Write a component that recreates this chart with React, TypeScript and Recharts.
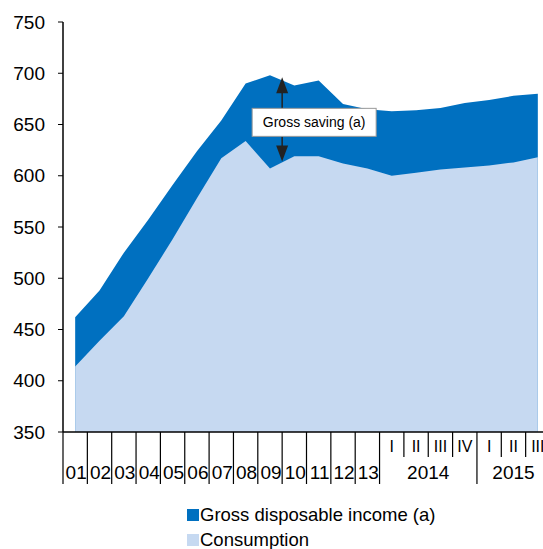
import React from 'react';
import { AreaChart, Area, XAxis, YAxis, ReferenceLine } from 'recharts';

// annual periods, then quarters
const years = ['01', '02', '03', '04', '05', '06', '07', '08', '09', '10', '11', '12', '13'];
const quarters = ['I', 'II', 'III', 'IV', 'I', 'II', 'III'];
const quarterYears = ['2014', '2014', '2014', '2014', '2015', '2015', '2015'];

const income = [462, 488, 525, 557, 591, 624, 654, 690, 698, 688, 693, 670, 665, 663, 664, 666, 671, 674, 678, 680];
const consumption = [414, 439, 463, 500, 538, 578, 617, 634, 607, 619, 619, 612, 607, 600, 603, 606, 608, 610, 613, 618];

const yTicks = [350, 400, 450, 500, 550, 600, 650, 700, 750];

const periods = [...years, ...quarters.map((q, i) => `${quarterYears[i]} ${q}`)];
const data = periods.map((p, i) => ({ period: p, income: income[i], consumption: consumption[i] }));

const FONT = '"Liberation Sans", Arial, sans-serif';
const DARK = '#0070C0';
const LIGHT = '#C6D9F1';

const W = 556;
const H = 495;
const MARGIN = { top: 22, right: 6, bottom: 3, left: 0 };
const Y_AXIS_W = 63;
const X_AXIS_H = 60;
const AXIS_Y = H - MARGIN.bottom - X_AXIS_H;
const BAND = (W - MARGIN.left - MARGIN.right - Y_AXIS_W) / periods.length;

const PeriodTick = (props: any) => {
    const { x } = props;
    const i = props.index ?? props.payload?.index ?? 0;
    const left = x - BAND / 2;
    if (i < years.length) {
        return (
            <g>
                <line x1={left} x2={left} y1={AXIS_Y} y2={AXIS_Y + 52} stroke="#000" strokeWidth={1.2} />
                <text x={x + 1} y={AXIS_Y + 47} textAnchor="middle" fontSize={19} fontFamily={FONT} fill="#000">
                    {years[i]}
                </text>
            </g>
        );
    }
    const qi = i - years.length;
    const q = quarters[qi];
    const yr = quarterYears[qi];
    const group = quarterYears.map((y, k) => (y === yr ? k : -1)).filter((k) => k >= 0);
    const isMid = qi === group[Math.floor((group.length - 1) / 2)];
    const mid = x + ((group[0] + group[group.length - 1]) / 2 - qi) * BAND;
    const long = q === 'I';
    return (
        <g>
            <line x1={left} x2={left} y1={AXIS_Y} y2={AXIS_Y + (long ? 52 : 25)} stroke="#000" strokeWidth={1.2} />
            <text x={x} y={AXIS_Y + 20} textAnchor="middle" fontSize={16} fontFamily={FONT} fill="#000">
                {q}
            </text>
            {isMid && (
                <text x={mid} y={AXIS_Y + 47} textAnchor="middle" fontSize={19} fontFamily={FONT} fill="#000">
                    {yr}
                </text>
            )}
        </g>
    );
};

const SavingCallout = (props: any) => {
    const { x1, y1, y2 } = props;
    const x = x1 + BAND / 2;
    const boxTop = y1 + 31;
    const boxBottom = boxTop + 28;
    return (
        <g>
            <line x1={x} x2={x} y1={y1 + 14} y2={boxTop} stroke="#222" strokeWidth={1.5} />
            <polygon points={`${x},${y1} ${x - 6},${y1 + 16} ${x + 6},${y1 + 16}`} fill="#222" />
            <line x1={x} x2={x} y1={boxBottom} y2={y2 - 14} stroke="#222" strokeWidth={1.5} />
            <polygon points={`${x},${y2} ${x - 6},${y2 - 16} ${x + 6},${y2 - 16}`} fill="#222" />
            <rect x={x - 30} y={boxTop} width={124} height={28} fill="#fff" stroke="#999" strokeWidth={1} />
            <text x={x + 32} y={boxTop + 19} textAnchor="middle" fontSize={14} fontFamily={FONT} fill="#000">
                Gross saving (a)
            </text>
        </g>
    );
};

const legendItems = [
    { name: 'Gross disposable income (a)', color: DARK },
    { name: 'Consumption', color: LIGHT },
];

export default function App() {
    return (
        <div style={{ position: 'absolute', left: 0, top: 0, width: 543, height: 549, overflow: 'hidden', background: '#fff', fontFamily: FONT }}>
            <AreaChart width={W} height={H} data={data} margin={MARGIN}>
                <XAxis
                    dataKey="period"
                    interval={0}
                    height={X_AXIS_H}
                    tickLine={false}
                    axisLine={{ stroke: '#000', strokeWidth: 1.5 }}
                    padding={{ left: BAND / 2, right: BAND / 2 }}
                    tick={<PeriodTick />}
                />
                <YAxis
                    width={Y_AXIS_W}
                    domain={[350, 750]}
                    ticks={yTicks}
                    interval={0}
                    tickSize={5}
                    tickMargin={13}
                    axisLine={{ stroke: '#000', strokeWidth: 1.5 }}
                    tickLine={{ stroke: '#000' }}
                    tick={{ fontSize: 19, fill: '#000', fontFamily: FONT }}
                />
                <Area type="linear" dataKey="income" name="Gross disposable income (a)" fill={DARK} fillOpacity={1} stroke="none" isAnimationActive={false} />
                <Area type="linear" dataKey="consumption" name="Consumption" fill={LIGHT} fillOpacity={1} stroke="none" isAnimationActive={false} />
                <ReferenceLine
                    segment={[{ x: '09', y: 696 }, { x: '09', y: 614 }]}
                    ifOverflow="visible"
                    shape={(p: any) => <SavingCallout {...p} />}
                />
            </AreaChart>
            <div style={{ position: 'absolute', left: 187, top: 502 }}>
                {legendItems.map((item) => (
                    <div key={item.name} style={{ display: 'flex', alignItems: 'center', height: 25, fontSize: 18.5, color: '#000' }}>
                        <span style={{ display: 'inline-block', width: 12, height: 12, background: item.color, marginRight: 1 }} />
                        <span>{item.name}</span>
                    </div>
                ))}
            </div>
        </div>
    );
}
